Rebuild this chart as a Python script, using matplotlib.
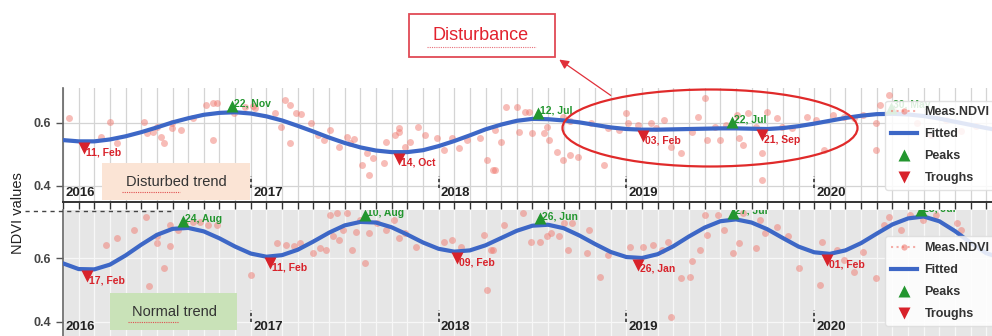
import numpy as np
import matplotlib.pyplot as plt
from matplotlib.lines import Line2D
from matplotlib.patches import Ellipse, Rectangle, FancyArrowPatch
from matplotlib.transforms import offset_copy

plt.rcParams['font.family'] = ['Liberation Sans', 'DejaVu Sans']

# monthly time axis (decimal years)
months = 2016 + np.arange(61) / 12

# fitted NDVI, disturbed site
fit_dist = [0.545, 0.541, 0.541, 0.547, 0.557, 0.570, 0.585, 0.601, 0.614, 0.625,
            0.631, 0.633, 0.629, 0.620, 0.607, 0.590, 0.572, 0.553, 0.536, 0.522,
            0.512, 0.507, 0.507, 0.513, 0.526, 0.542, 0.560, 0.579, 0.594, 0.606,
            0.612, 0.611, 0.607, 0.601, 0.593, 0.585, 0.580, 0.578, 0.578, 0.579,
            0.580, 0.581, 0.582, 0.582, 0.581, 0.580, 0.583, 0.589, 0.597, 0.606,
            0.615, 0.622, 0.627, 0.628, 0.626, 0.621, 0.613, 0.603, 0.593, 0.583,
            0.574]

# fitted NDVI, normal site
fit_norm = [0.584, 0.566, 0.565, 0.580, 0.609, 0.643, 0.674, 0.693, 0.696, 0.685,
            0.663, 0.637, 0.615, 0.605, 0.610, 0.627, 0.653, 0.681, 0.704, 0.715,
            0.713, 0.698, 0.675, 0.650, 0.630, 0.621, 0.625, 0.641, 0.664, 0.687,
            0.703, 0.706, 0.695, 0.672, 0.645, 0.620, 0.604, 0.601, 0.613, 0.638,
            0.669, 0.697, 0.717, 0.723, 0.713, 0.692, 0.664, 0.637, 0.619, 0.614,
            0.625, 0.648, 0.678, 0.707, 0.726, 0.732, 0.717, 0.686, 0.649, 0.616,
            0.600]

# measured NDVI, disturbed site
meas_dist_t = [2016.03, 2016.20, 2016.25, 2016.29, 2016.43, 2016.45, 2016.48, 2016.50,
               2016.52, 2016.54, 2016.58, 2016.58, 2016.63, 2016.69, 2016.80, 2016.76,
               2016.80, 2016.82, 2016.91, 2016.97, 2017.01, 2017.02, 2017.18, 2017.21,
               2017.13, 2017.16, 2017.21, 2017.24, 2017.27, 2017.32, 2017.36, 2017.39,
               2017.42, 2017.47, 2017.51, 2017.53, 2017.55, 2017.59, 2017.62, 2017.63,
               2017.65, 2017.71, 2017.72, 2017.77, 2017.79, 2017.79, 2017.82, 2017.85,
               2017.89, 2017.93, 2017.99, 2018.03, 2018.07, 2018.11, 2018.15, 2018.22,
               2018.26, 2018.29, 2018.30, 2018.30, 2018.33, 2018.36, 2018.42, 2018.43,
               2018.46, 2018.48, 2018.50, 2018.56, 2018.58, 2018.59, 2018.63, 2018.66,
               2018.70, 2018.74, 2018.66, 2018.70, 2018.81, 2018.88, 2018.90, 2018.96,
               2019.00, 2019.01, 2019.06, 2019.13, 2019.16, 2019.20, 2019.24, 2019.29,
               2019.35, 2019.38, 2019.42, 2019.43, 2019.47, 2019.50, 2019.53, 2019.59,
               2019.60, 2019.62, 2019.65, 2019.69, 2019.75, 2019.80, 2019.72, 2019.72,
               2019.83, 2019.88, 2019.96, 2020.01, 2020.05, 2020.10, 2020.16, 2020.21,
               2020.26, 2020.33, 2020.33, 2020.40, 2020.42, 2020.35, 2020.47, 2020.55,
               2020.62, 2020.70, 2020.78, 2020.86]
meas_dist_v = [0.614, 0.556, 0.603, 0.535, 0.603, 0.566, 0.572, 0.587,
               0.556, 0.535, 0.598, 0.582, 0.577, 0.614, 0.545, 0.656,
               0.661, 0.661, 0.630, 0.651, 0.653, 0.645, 0.672, 0.656,
               0.630, 0.587, 0.535, 0.630, 0.627, 0.598, 0.561, 0.545,
               0.577, 0.524, 0.556, 0.535, 0.550, 0.466, 0.503, 0.435,
               0.488, 0.472, 0.540, 0.561, 0.582, 0.572, 0.524, 0.540,
               0.587, 0.561, 0.551, 0.514, 0.551, 0.519, 0.545, 0.551,
               0.482, 0.451, 0.577, 0.451, 0.540, 0.651, 0.651, 0.572,
               0.635, 0.635, 0.566, 0.566, 0.587, 0.545, 0.508, 0.482,
               0.498, 0.493, 0.619, 0.605, 0.598, 0.466, 0.582, 0.577,
               0.630, 0.598, 0.593, 0.598, 0.582, 0.609, 0.524, 0.503,
               0.572, 0.619, 0.677, 0.545, 0.587, 0.545, 0.593, 0.624,
               0.551, 0.530, 0.630, 0.587, 0.635, 0.614, 0.503, 0.419,
               0.587, 0.582, 0.619, 0.609, 0.514, 0.624, 0.619, 0.614,
               0.624, 0.514, 0.598, 0.688, 0.640, 0.656, 0.635, 0.600,
               0.560, 0.610, 0.575, 0.590]

# measured NDVI, normal site
meas_norm_t = [2016.23, 2016.29, 2016.38, 2016.46, 2016.50, 2016.50, 2016.54, 2016.57,
               2016.57, 2016.61, 2016.65, 2016.69, 2016.73, 2016.77, 2016.82, 2016.44,
               2017.00, 2017.14, 2017.19, 2017.23, 2017.26, 2017.33, 2017.37, 2017.40,
               2017.44, 2017.47, 2017.49, 2017.42, 2017.46, 2017.51, 2017.54, 2017.56,
               2017.58, 2017.61, 2017.63, 2017.67, 2017.72, 2017.76, 2017.79, 2017.82,
               2017.88, 2018.03, 2018.07, 2018.12, 2018.26, 2018.24, 2018.28, 2018.29,
               2018.35, 2018.45, 2018.49, 2018.54, 2018.58, 2018.60, 2018.64, 2018.67,
               2018.71, 2018.69, 2018.79, 2018.80, 2018.86, 2018.90, 2019.02, 2019.09,
               2019.14, 2019.19, 2019.22, 2019.24, 2019.29, 2019.34, 2019.35, 2019.39,
               2019.43, 2019.42, 2019.49, 2019.52, 2019.57, 2019.60, 2019.62, 2019.69,
               2019.71, 2019.74, 2019.80, 2019.86, 2019.92, 2020.03, 2020.04, 2020.07,
               2020.12, 2020.16, 2020.21, 2020.26, 2020.33, 2020.37, 2020.40, 2020.46,
               2020.51, 2020.58, 2020.65, 2020.76, 2020.78]
meas_norm_v = [0.642, 0.663, 0.690, 0.511, 0.648, 0.669, 0.569, 0.706,
               0.638, 0.690, 0.711, 0.716, 0.716, 0.706, 0.706, 0.732,
               0.548, 0.648, 0.642, 0.638, 0.648, 0.616, 0.632, 0.627,
               0.669, 0.658, 0.690, 0.737, 0.742, 0.742, 0.627, 0.684,
               0.721, 0.584, 0.679, 0.711, 0.690, 0.721, 0.663, 0.679,
               0.637, 0.653, 0.658, 0.637, 0.500, 0.674, 0.627, 0.627,
               0.706, 0.742, 0.653, 0.653, 0.669, 0.679, 0.669, 0.711,
               0.711, 0.627, 0.616, 0.690, 0.542, 0.611, 0.637, 0.637,
               0.642, 0.627, 0.653, 0.416, 0.537, 0.542, 0.590, 0.627,
               0.674, 0.737, 0.737, 0.690, 0.616, 0.648, 0.742, 0.632,
               0.721, 0.679, 0.700, 0.669, 0.569, 0.516, 0.653, 0.611,
               0.627, 0.595, 0.558, 0.621, 0.537, 0.706, 0.732, 0.690,
               0.737, 0.721, 0.737, 0.711, 0.690]

# detected peaks / troughs
peaks_dist_t = [2016.90, 2018.53, 2019.56, 2020.41]
peaks_dist_v = [0.633, 0.612, 0.582, 0.628]
peaks_dist_lbl = ['22, Nov', '12, Jul', '22, Jul', '30, May']
troughs_dist_t = [2016.11, 2017.79, 2019.09, 2019.72]
troughs_dist_v = [0.540, 0.506, 0.578, 0.580]
troughs_dist_lbl = ['11, Feb', '14, Oct', '03, Feb', '21, Sep']

peaks_norm_t = [2016.64, 2017.61, 2018.54, 2019.57, 2020.57]
peaks_norm_v = [0.697, 0.716, 0.706, 0.723, 0.732]
peaks_norm_lbl = ['24, Aug', '10, Aug', '26, Jun', '27, Jul', '28, Jul']
troughs_norm_t = [2016.13, 2017.10, 2018.10, 2019.06, 2020.07]
troughs_norm_v = [0.563, 0.605, 0.621, 0.600, 0.614]
troughs_norm_lbl = ['17, Feb', '11, Feb', '09, Feb', '26, Jan', '01, Feb']

years = [2016, 2017, 2018, 2019, 2020]

PINK = '#f07a70'
BLUE = '#3d67c6'
GREEN = '#23962f'
RED = '#d8222a'


def draw_panel(ax, fit, mt, mv, pt, pv, plbl, tt, tv, tlbl, ylim, bg, grid_c, leg_y):
    ax.set_facecolor(bg)
    ax.set_xlim(2016.0, 2020.947)
    ax.set_ylim(*ylim)
    ax.set_xticks(2016 + np.arange(60) / 12)
    ax.set_xticklabels([])
    ax.set_yticks([0.4, 0.6])
    ax.set_yticklabels(['0.4', '0.6'], fontsize=9, fontweight='bold', color='#444')
    ax.tick_params(axis='x', direction='out', length=5, width=1, color='#333')
    ax.tick_params(axis='y', direction='out', length=5, width=1, color='#555')
    ax.grid(True, color=grid_c, linewidth=0.9)
    ax.set_axisbelow(True)
    for s in ['top', 'right']:
        ax.spines[s].set_visible(False)
    ax.spines['left'].set_color('#666')
    ax.spines['left'].set_linewidth(1.2)
    ax.spines['bottom'].set_color('#333')
    ax.spines['bottom'].set_linewidth(1.4)

    ax.plot(mt, mv, 'o', color=PINK, alpha=0.5, ms=5, mec='none', zorder=2)
    ax.plot(months, fit, color=BLUE, lw=3, zorder=3)

    up = offset_copy(ax.transData, fig=ax.figure, y=4.5, units='points')
    dn = offset_copy(ax.transData, fig=ax.figure, y=-4.5, units='points')
    ax.plot(pt, pv, '^', color=GREEN, ms=8, mec='none', transform=up, zorder=4)
    ax.plot(tt, tv, 'v', color=RED, ms=8, mec='none', transform=dn, zorder=4)
    up_t = offset_copy(ax.transData, fig=ax.figure, x=1.5, y=2.5, units='points')
    dn_t = offset_copy(ax.transData, fig=ax.figure, x=1.5, y=-4, units='points')
    for x, y, s in zip(pt, pv, plbl):
        ax.text(x, y, s, transform=up_t, color=GREEN, fontsize=7.5,
                fontweight='bold', ha='left', va='bottom', clip_on=True, zorder=4)
    for x, y, s in zip(tt, tv, tlbl):
        ax.text(x, y, s, transform=dn_t, color=RED, fontsize=7.5,
                fontweight='bold', ha='left', va='top', clip_on=True, zorder=4)

    # year labels with small dashed markers
    xt = ax.get_xaxis_transform()
    h_px = ax.get_position().height * ax.figure.get_figheight() * ax.figure.dpi
    for yr in years:
        ax.text(yr + 0.012, 3 / h_px, str(yr), transform=xt, fontsize=9.5,
                fontweight='bold', color='#222', ha='left', va='bottom', zorder=5)
        if yr > 2016:
            ax.plot([yr, yr], [14 / h_px, 26 / h_px], transform=xt, color='#333',
                    lw=1.2, ls=(0, (2, 1.5)), zorder=5)

    handles = [
        Line2D([], [], ls=':', color=PINK, alpha=0.6, marker='o', ms=4.5, mec='none'),
        Line2D([], [], color=BLUE, lw=3),
        Line2D([], [], ls='none', marker='^', color=GREEN, ms=8, mec='none'),
        Line2D([], [], ls='none', marker='v', color=RED, ms=8, mec='none'),
    ]
    leg = ax.legend(handles, ['Meas.NDVI', 'Fitted', 'Peaks', 'Troughs'],
                    loc='upper left', bbox_to_anchor=(0.885, leg_y), borderaxespad=0,
                    prop={'size': 9, 'weight': 'bold'}, handlelength=2.1,
                    handletextpad=0.6, labelspacing=0.8, borderpad=0.45,
                    framealpha=0.85, edgecolor='#dddddd', fancybox=True)
    for t in leg.get_texts():
        t.set_color('#333')
    leg.set_zorder(6)


fig = plt.figure(figsize=(9.92, 3.36), dpi=100)
ax1 = fig.add_axes([0.0635, 0.3988, 0.9365, 0.3393])
ax2 = fig.add_axes([0.0635, 0.0, 0.9365, 0.375])

draw_panel(ax1, fit_dist, meas_dist_t, meas_dist_v, peaks_dist_t, peaks_dist_v,
           peaks_dist_lbl, troughs_dist_t, troughs_dist_v, troughs_dist_lbl,
           (0.3494, 0.7096), 'white', '#d4d4d4', 0.89)
draw_panel(ax2, fit_norm, meas_norm_t, meas_norm_v, peaks_norm_t, peaks_norm_v,
           peaks_norm_lbl, troughs_norm_t, troughs_norm_v, troughs_norm_lbl,
           (0.3545, 0.7526), '#e6e6e6', '#f7f7f7', 0.79)
ax2.tick_params(axis='x', length=0)
ax2.spines['bottom'].set_visible(False)

fig.text(0.018, 0.366, 'NDVI values', rotation=90, fontsize=10.5, color='#222',
         ha='center', va='center')

W, H = 992, 336


def fx(px):
    return px / W


def fy(py):
    return 1 - py / H


# trend boxes
fig.patches.append(Rectangle((fx(102), fy(200)), fx(148), 37 / H, transform=fig.transFigure,
                             facecolor='#fbe4d5', edgecolor='none', zorder=7))
fig.text(fx(176), fy(182), 'Disturbed trend', fontsize=10.5, color='#333',
         ha='center', va='center', zorder=8)
fig.lines.append(Line2D([fx(122), fx(180)], [fy(192), fy(192)], transform=fig.transFigure,
                        color='#e05050', lw=0.8, ls=(0, (1, 1)), zorder=8))

fig.patches.append(Rectangle((fx(110), fy(330)), fx(127), 37 / H, transform=fig.transFigure,
                             facecolor='#c9e2b8', edgecolor='none', zorder=7))
fig.text(fx(174), fy(312), 'Normal trend', fontsize=10.5, color='#333',
         ha='center', va='center', zorder=8)
fig.lines.append(Line2D([fx(128), fx(178)], [fy(322), fy(322)], transform=fig.transFigure,
                        color='#e05050', lw=0.8, ls=(0, (1, 1)), zorder=8))

# disturbance callout
fig.patches.append(Ellipse((fx(710), fy(128)), fx(295), 77 / H, transform=fig.transFigure,
                           facecolor='none', edgecolor='#e02a2a', lw=1.6, zorder=7))
fig.patches.append(Rectangle((fx(409), fy(57)), fx(146), 43 / H, transform=fig.transFigure,
                             facecolor='white', edgecolor='#e04a55', lw=1.3, zorder=7))
fig.text(fx(481), fy(36), 'Disturbance', fontsize=13, color='#e2222e',
         ha='center', va='center', zorder=8)
fig.lines.append(Line2D([fx(427), fx(536)], [fy(47), fy(47)], transform=fig.transFigure,
                        color='#e8707a', lw=0.8, ls=(0, (1, 1)), zorder=8))
fig.patches.append(FancyArrowPatch((fx(613), fy(97)), (fx(557), fy(58)),
                                   transform=fig.transFigure, arrowstyle='-|>',
                                   mutation_scale=14, color='#e0303a', lw=0.9, zorder=8))

# separator dashes between panels
fig.lines.append(Line2D([fx(25), fx(175)], [fy(211), fy(211)], transform=fig.transFigure,
                        color='#444', lw=1, ls=(0, (3, 3)), zorder=8))

fig.savefig('out.png', dpi=100)
